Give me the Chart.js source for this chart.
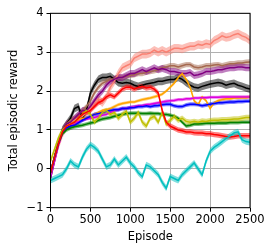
<!DOCTYPE html>
<html>
<head>
<meta charset="utf-8">
<script src="https://cdn.jsdelivr.net/npm/chart.js@4"></script>
<style>
  html, body { margin: 0; padding: 0; background: #fff; }
  #wrap { width: 274px; height: 252px; }
</style>
</head>
<body>
<div id="wrap"><canvas id="chart" width="274" height="252"></canvas></div>
<script>
// Episodes (every 50)
const episodes = [0,50,100,150,200,250,300,350,400,450,500,550,600,650,700,750,800,850,900,950,1000,1050,1100,1150,1200,1250,1300,1350,1400,1450,1500,1550,1600,1650,1700,1750,1800,1850,1900,1950,2000,2050,2100,2150,2200,2250,2300,2350,2400,2450,2500];

// mean reward per run
const blackRun  = [-0.1,0.3,0.7,1.0,1.15,1.3,1.55,1.6,1.3,1.5,1.95,2.15,2.3,2.35,2.35,2.38,2.3,2.22,2.2,2.22,2.2,2.15,2.12,2.15,2.18,2.2,2.22,2.25,2.25,2.28,2.3,2.3,2.35,2.3,2.22,2.15,2.1,2.08,2.12,2.15,2.18,2.2,2.22,2.2,2.15,2.18,2.2,2.15,2.12,2.08,2.05];
const salmonRun = [-0.2,0.2,0.6,0.9,1.1,1.2,1.25,1.3,1.35,1.45,1.55,1.7,1.8,1.7,1.85,2.1,2.25,2.45,2.6,2.65,2.7,2.85,2.9,2.95,2.95,2.98,3.05,3.0,3.05,3.0,3.05,3.1,3.1,3.08,3.12,3.15,3.15,3.2,3.18,3.22,3.2,3.3,3.35,3.42,3.38,3.4,3.45,3.48,3.42,3.38,3.3];
const brownRun  = [-0.1,0.3,0.7,1.0,1.15,1.25,1.3,1.4,1.5,1.6,1.75,1.95,2.1,2.2,2.25,2.3,2.32,2.35,2.35,2.38,2.4,2.42,2.45,2.45,2.48,2.5,2.52,2.55,2.6,2.62,2.65,2.65,2.62,2.65,2.68,2.68,2.62,2.6,2.62,2.65,2.65,2.67,2.68,2.65,2.68,2.7,2.7,2.72,2.72,2.74,2.75];
const purpleRun = [-0.25,0.2,0.65,1.0,1.15,1.2,1.3,1.4,1.5,1.5,1.6,1.75,1.9,2.0,2.15,2.25,2.3,2.35,2.35,2.4,2.45,2.45,2.5,2.55,2.5,2.55,2.6,2.55,2.58,2.55,2.5,2.5,2.48,2.45,2.45,2.48,2.4,2.42,2.45,2.5,2.5,2.52,2.55,2.55,2.58,2.6,2.6,2.62,2.62,2.6,2.6];
const orangeRun = [-0.1,0.3,0.7,0.95,1.1,1.15,1.2,1.25,1.3,1.3,1.35,1.4,1.45,1.5,1.52,1.55,1.6,1.65,1.68,1.7,1.72,1.72,1.75,1.78,1.8,1.82,1.85,1.88,1.92,2.0,2.1,2.2,2.35,2.45,2.3,2.1,1.75,1.65,1.85,1.75,1.55,1.7,1.75,1.78,1.8,1.8,1.82,1.82,1.83,1.83,1.85];
const magentaRun= [-0.2,0.2,0.6,0.9,1.05,1.12,1.18,1.22,1.25,1.28,1.3,1.32,1.35,1.38,1.4,1.45,1.5,1.52,1.55,1.55,1.58,1.6,1.62,1.63,1.65,1.66,1.68,1.7,1.72,1.74,1.75,1.76,1.78,1.78,1.8,1.8,1.82,1.82,1.83,1.83,1.84,1.84,1.84,1.85,1.85,1.85,1.85,1.85,1.85,1.85,1.85];
const blueRun   = [-0.1,0.3,0.65,0.95,1.05,1.1,1.12,1.18,1.25,1.3,1.35,1.4,1.42,1.45,1.48,1.5,1.52,1.52,1.55,1.55,1.57,1.58,1.6,1.6,1.62,1.6,1.62,1.63,1.65,1.66,1.66,1.62,1.6,1.6,1.64,1.66,1.66,1.65,1.62,1.64,1.66,1.68,1.7,1.7,1.71,1.72,1.72,1.73,1.73,1.74,1.74];
const greenRun  = [-0.1,0.3,0.65,0.9,1.0,1.05,1.08,1.1,1.12,1.15,1.18,1.2,1.25,1.28,1.3,1.32,1.35,1.38,1.4,1.42,1.43,1.43,1.43,1.42,1.42,1.43,1.42,1.42,1.4,1.4,1.38,1.35,1.3,1.2,1.1,1.12,1.15,1.15,1.16,1.17,1.17,1.17,1.18,1.18,1.18,1.19,1.19,1.19,1.2,1.2,1.2];
const oliveRun  = [0.2,0.5,0.8,1.0,1.1,1.15,1.2,1.3,1.4,1.5,1.4,1.2,1.3,1.45,1.5,1.4,1.45,1.3,1.4,1.48,1.2,1.3,1.45,1.2,1.1,1.3,1.35,1.2,1.45,1.15,1.25,1.35,1.25,1.3,1.22,1.2,1.22,1.2,1.23,1.22,1.24,1.25,1.25,1.26,1.26,1.27,1.28,1.28,1.3,1.32,1.32];
const redRun    = [-0.1,0.3,0.65,0.95,1.1,1.15,1.2,1.3,1.4,1.45,1.5,1.6,1.7,1.75,1.85,1.9,1.85,1.95,2.05,2.1,2.1,2.05,2.1,2.12,2.08,2.1,2.05,1.95,1.5,1.2,1.1,1.05,1.0,0.98,0.95,0.95,0.93,0.92,0.92,0.9,0.9,0.88,0.87,0.85,0.83,0.82,0.83,0.85,0.85,0.85,0.85];
const cyanRun   = [-0.3,-0.25,-0.2,-0.15,0.0,0.2,0.1,0.05,0.3,0.5,0.62,0.55,0.45,0.25,0.05,0.1,0.25,0.1,0.2,0.3,0.15,0.05,-0.1,-0.2,0.1,0.05,-0.05,-0.15,-0.35,-0.5,-0.2,-0.25,-0.3,-0.15,-0.05,0.05,0.15,0.0,-0.15,0.2,0.45,0.55,0.62,0.7,0.78,0.85,0.92,0.95,0.75,0.7,0.68];

// half width of the shaded band per run
const bandWidths = [0.1, 0.11, 0.07, 0.09, 0.04, 0.04, 0.05, 0.05, 0.07, 0.07, 0.08];

const xTicks = [0, 500, 1000, 1500, 2000, 2500];
const yTicks = [-1, 0, 1, 2, 3, 4];

const runs = [
  { vals: blackRun,   color: '#000000', rgb: '0,0,0' },
  { vals: salmonRun,  color: '#fa8072', rgb: '250,128,114' },
  { vals: brownRun,   color: '#a5694f', rgb: '165,105,79' },
  { vals: purpleRun,  color: '#800080', rgb: '128,0,128' },
  { vals: orangeRun,  color: '#ffa500', rgb: '255,165,0' },
  { vals: magentaRun, color: '#dd00dd', rgb: '221,0,221' },
  { vals: blueRun,    color: '#0000ff', rgb: '0,0,255' },
  { vals: greenRun,   color: '#008000', rgb: '0,128,0' },
  { vals: oliveRun,   color: '#bfbf00', rgb: '191,191,0' },
  { vals: redRun,     color: '#ff0000', rgb: '255,0,0' },
  { vals: cyanRun,    color: '#00bfbf', rgb: '0,191,191' }
];

const FONT = { family: 'DejaVu Sans', size: 11.5 };

function buildDatasets() {
  const ds = [];
  runs.forEach((r, i) => {
    const w = bandWidths[i];
    const pts = (sign) => episodes.map((x, j) => ({ x: x, y: r.vals[j] + sign * w }));
    // band: upper filled down to lower
    ds.push({ data: pts(1), borderWidth: 0, pointRadius: 0, fill: '+1',
      backgroundColor: 'rgba(' + r.rgb + ',0.5)', order: 200 - i * 2 });
    ds.push({ data: pts(-1), borderWidth: 0, pointRadius: 0, fill: false, order: 199 - i * 2 });
  });
  runs.forEach((r, i) => {
    ds.push({ data: episodes.map((x, j) => ({ x: x, y: r.vals[j] })),
      borderColor: r.color, borderWidth: 1.5, pointRadius: 0, fill: false, order: 100 - i });
  });
  return ds;
}

// black frame around the axes (all 4 spines)
const framePlugin = {
  id: 'frame',
  afterDraw(chart) {
    const { ctx, chartArea: a } = chart;
    ctx.save();
    ctx.strokeStyle = '#000';
    ctx.lineWidth = 1;
    ctx.strokeRect(a.left, a.top, a.right - a.left, a.bottom - a.top);
    ctx.restore();
  }
};

new Chart(document.getElementById('chart'), {
  type: 'line',
  data: { datasets: buildDatasets() },
  options: {
    responsive: false,
    animation: false,
    layout: { padding: { left: 0, right: 24, top: 13.3, bottom: 0 } },
    plugins: { legend: { display: false }, tooltip: { enabled: false } },
    elements: { line: { tension: 0 } },
    scales: {
      x: {
        type: 'linear', min: 0, max: 2500,
        afterBuildTicks: (s) => { s.ticks = xTicks.map(v => ({ value: v })); },
        afterFit: (s) => { s.height = 44.3; },
        grid: { color: '#b0b0b0', tickColor: '#000', tickLength: 4 },
        border: { display: false },
        ticks: { color: '#000', font: FONT, padding: 1, maxRotation: 0,
          callback: (v) => String(v) },
        title: { display: true, text: 'Episode', color: '#000', font: FONT, padding: { top: 0, bottom: 8 } }
      },
      y: {
        type: 'linear', min: -1, max: 4,
        afterBuildTicks: (s) => { s.ticks = yTicks.map(v => ({ value: v })); },
        afterFit: (s) => { s.width = 50.5; },
        grid: { color: '#b0b0b0', tickColor: '#000', tickLength: 4 },
        border: { display: false },
        ticks: { color: '#000', font: FONT, padding: 3,
          callback: (v) => String(v).replace('-', '\u2212') },
        title: { display: true, text: 'Total episodic reward', color: '#000', font: FONT, padding: { top: 7, bottom: 0 } }
      }
    }
  },
  plugins: [framePlugin]
});
</script>
</body>
</html>
